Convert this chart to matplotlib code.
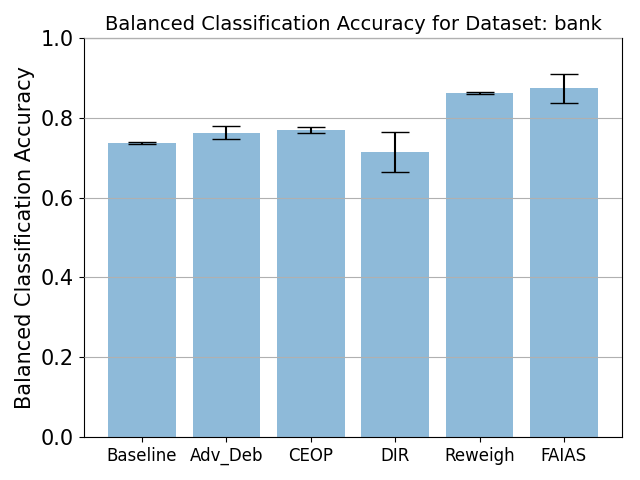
import matplotlib
matplotlib.use("Agg")
import matplotlib.pyplot as plt
import numpy as np

methods = ["Baseline", "Adv_Deb", "CEOP", "DIR", "Reweigh", "FAIAS"]
means = [0.737, 0.763, 0.770, 0.715, 0.862, 0.874]
stds = [0.0033, 0.016, 0.0075, 0.0505, 0.0025, 0.036]

fig, ax = plt.subplots(figsize=(6.4, 4.8), dpi=100)
x = np.arange(len(methods))
ax.bar(x, means, yerr=stds, align="center", alpha=0.5, ecolor="black", capsize=10, color="C0")
ax.set_xticks(x)
ax.set_xticklabels(methods, fontsize=12)
ax.set_ylim(0, 1.0)
ax.tick_params(axis="y", labelsize=15)
ax.set_ylabel("Balanced Classification Accuracy", fontsize=15)
ax.set_title("Balanced Classification Accuracy for Dataset: bank", fontsize=14)
ax.yaxis.grid(True)
ax.set_axisbelow(False)
fig.subplots_adjust(left=0.131, right=0.972, top=0.921, bottom=0.0896)
fig.savefig("out.png", dpi=100)
